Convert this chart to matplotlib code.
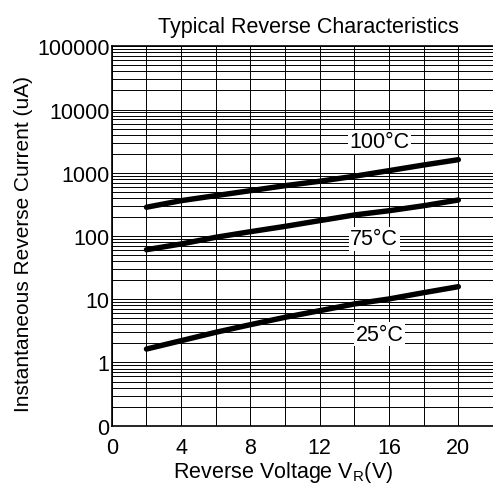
import numpy as np
import matplotlib.pyplot as plt
from matplotlib.ticker import LogLocator, FixedLocator, MultipleLocator, NullFormatter

plt.rcParams['font.family'] = ['Liberation Sans', 'DejaVu Sans']
plt.rcParams['mathtext.fontset'] = 'custom'
plt.rcParams['mathtext.rm'] = 'Liberation Sans'

# reverse voltage (V) and reverse current (uA)
voltage = [2, 4, 6, 8, 10, 12, 14, 16, 18, 20]
current_25c = [1.63, 2.21, 3.0, 3.96, 5.18, 6.59, 8.41, 10.1, 12.7, 15.8]
current_75c = [60.7, 74.8, 95.4, 117, 142, 175, 215, 251, 301, 371]
current_100c = [285, 362, 435, 521, 625, 734, 881, 1080, 1327, 1610]

curve_labels = ["25°C", "75°C", "100°C"]
label_x = [15.45, 15.15, 15.45]
label_y = [2.8, 90, 3070]

y_ticks = [0.1, 1, 10, 100, 1000, 10000, 100000]
y_tick_labels = ["0", "1", "10", "100", "1000", "10000", "100000"]
x_ticks = [0, 4, 8, 12, 16, 20]

fig = plt.figure(figsize=(4.93, 4.89), dpi=100)
ax = fig.add_axes([0.2268, 0.1274, 0.7732, 0.7759])

for cur in [current_25c, current_75c, current_100c]:
    ax.plot(voltage, cur, color='black', lw=3.9, solid_capstyle='round', zorder=3)

for txt, tx, ty in zip(curve_labels, label_x, label_y):
    ax.text(tx, ty, txt, fontsize=15.5, ha='center', va='center', zorder=4,
            bbox=dict(facecolor='white', edgecolor='none', pad=1.0))

ax.set_yscale('log')
ax.set_ylim(0.1, 100000)
ax.set_xlim(0, 22)

ax.yaxis.set_major_locator(FixedLocator(y_ticks))
ax.set_yticklabels(y_tick_labels)
ax.yaxis.set_minor_locator(LogLocator(base=10, subs=np.arange(2, 10), numticks=20))
ax.yaxis.set_minor_formatter(NullFormatter())
ax.set_xticks(x_ticks)
ax.xaxis.set_minor_locator(MultipleLocator(2))

ax.grid(True, which='both', color='black', lw=0.7)
ax.tick_params(which='both', length=0, labelsize=15.5)
ax.tick_params(axis='y', pad=1.5)
ax.tick_params(axis='x', pad=8)

ax.spines['right'].set_visible(False)
for s in ['left', 'top', 'bottom']:
    ax.spines[s].set_linewidth(1.2)

ax.set_title("Typical Reverse Characteristics", fontsize=15.5, x=0.515, pad=10)
ax.set_xlabel("Reverse Voltage V$_\\mathregular{R}$(V)", fontsize=15.5, x=0.449, labelpad=1)
ax.set_ylabel("Instantaneous Reverse Current (uA)", fontsize=15, y=0.4815, labelpad=3)

fig.savefig("out.png", dpi=100)
